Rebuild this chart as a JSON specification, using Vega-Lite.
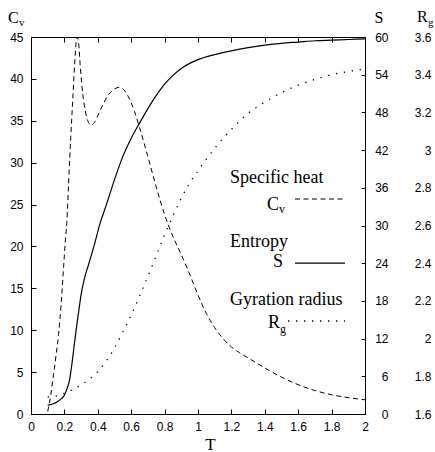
{
  "$schema": "https://vega.github.io/schema/vega-lite/v6.json",
  "width": 334,
  "height": 377,
  "autosize": {"type": "none"},
  "padding": {"left": 31, "top": 37, "right": 70, "bottom": 38},
  "background": "white",
  "config": {
    "view": {"stroke": "black", "strokeWidth": 1},
    "axis": {"labelFont": "Liberation Sans", "labelFontSize": 12, "labelColor": "black", "labelOverlap": false, "domainColor": "black", "tickColor": "black", "grid": false, "titleFont": "Liberation Serif", "titleFontWeight": "normal", "titleColor": "black", "titleFontSize": 17},
    "text": {"font": "Liberation Serif", "color": "black"}
  },
  "datasets": {
    "cv": [
      {"T":0.10,"Cv":0.3},{"T":0.12,"Cv":2.5},{"T":0.135,"Cv":4.7},{"T":0.15,"Cv":7.0},{"T":0.165,"Cv":9.5},{"T":0.18,"Cv":13.0},{"T":0.195,"Cv":17.5},{"T":0.205,"Cv":20.5},{"T":0.215,"Cv":23.0},{"T":0.225,"Cv":27.5},{"T":0.238,"Cv":33.0},{"T":0.25,"Cv":37.5},{"T":0.262,"Cv":42.0},{"T":0.27,"Cv":44.3},{"T":0.277,"Cv":45.0},{"T":0.285,"Cv":44.3},{"T":0.295,"Cv":41.5},{"T":0.31,"Cv":38.2},{"T":0.325,"Cv":36.2},{"T":0.34,"Cv":35.0},{"T":0.36,"Cv":34.5},{"T":0.38,"Cv":34.8},{"T":0.40,"Cv":35.6},{"T":0.43,"Cv":36.9},{"T":0.46,"Cv":38.0},{"T":0.50,"Cv":38.8},{"T":0.53,"Cv":39.0},{"T":0.56,"Cv":38.6},{"T":0.59,"Cv":37.6},{"T":0.62,"Cv":36.1},{"T":0.65,"Cv":34.2},{"T":0.70,"Cv":30.7},{"T":0.75,"Cv":27.1},{"T":0.80,"Cv":23.8},{"T":0.85,"Cv":21.2},{"T":0.90,"Cv":19.0},{"T":0.95,"Cv":16.7},{"T":1.0,"Cv":14.2},{"T":1.05,"Cv":12.0},{"T":1.1,"Cv":10.3},{"T":1.15,"Cv":9.0},{"T":1.2,"Cv":8.0},{"T":1.25,"Cv":7.3},{"T":1.3,"Cv":6.7},{"T":1.4,"Cv":5.5},{"T":1.5,"Cv":4.4},{"T":1.6,"Cv":3.5},{"T":1.7,"Cv":2.8},{"T":1.8,"Cv":2.3},{"T":1.9,"Cv":1.95},{"T":2.0,"Cv":1.7}
    ],
    "s": [
      {"T":0.10,"S":1.4},{"T":0.13,"S":1.6},{"T":0.16,"S":2.0},{"T":0.18,"S":2.4},{"T":0.20,"S":3.0},{"T":0.215,"S":4.0},{"T":0.23,"S":5.3},{"T":0.24,"S":7.0},{"T":0.25,"S":9.0},{"T":0.26,"S":11.2},{"T":0.27,"S":13.3},{"T":0.285,"S":16.2},{"T":0.30,"S":19.0},{"T":0.32,"S":21.6},{"T":0.345,"S":23.8},{"T":0.38,"S":27.0},{"T":0.413,"S":30.3},{"T":0.45,"S":33.2},{"T":0.50,"S":37.3},{"T":0.55,"S":41.0},{"T":0.60,"S":43.9},{"T":0.65,"S":46.3},{"T":0.70,"S":48.6},{"T":0.75,"S":50.7},{"T":0.80,"S":52.5},{"T":0.85,"S":53.9},{"T":0.90,"S":55.0},{"T":0.95,"S":55.8},{"T":1.0,"S":56.4},{"T":1.1,"S":57.2},{"T":1.2,"S":57.8},{"T":1.3,"S":58.3},{"T":1.4,"S":58.7},{"T":1.5,"S":59.0},{"T":1.6,"S":59.2},{"T":1.7,"S":59.4},{"T":1.8,"S":59.5},{"T":1.9,"S":59.6},{"T":2.0,"S":59.7}
    ],
    "rg": [
      {"T":0.10,"Rg":1.69},{"T":0.15,"Rg":1.695},{"T":0.20,"Rg":1.71},{"T":0.25,"Rg":1.73},{"T":0.30,"Rg":1.755},{"T":0.35,"Rg":1.785},{"T":0.40,"Rg":1.825},{"T":0.45,"Rg":1.88},{"T":0.50,"Rg":1.95},{"T":0.55,"Rg":2.035},{"T":0.60,"Rg":2.125},{"T":0.65,"Rg":2.225},{"T":0.70,"Rg":2.33},{"T":0.75,"Rg":2.44},{"T":0.80,"Rg":2.55},{"T":0.85,"Rg":2.65},{"T":0.90,"Rg":2.745},{"T":0.95,"Rg":2.825},{"T":1.0,"Rg":2.89},{"T":1.1,"Rg":3.01},{"T":1.2,"Rg":3.11},{"T":1.3,"Rg":3.195},{"T":1.4,"Rg":3.255},{"T":1.5,"Rg":3.305},{"T":1.6,"Rg":3.345},{"T":1.7,"Rg":3.375},{"T":1.8,"Rg":3.40},{"T":1.9,"Rg":3.417},{"T":2.0,"Rg":3.43}
    ]
  },
  "layer": [
    {
      "layer": [
        {
          "data": {"name": "cv"},
          "mark": {"type": "line", "color": "black", "strokeWidth": 1, "strokeDash": [5, 3.5], "interpolate": "monotone"},
          "encoding": {
            "x": {"field": "T", "type": "quantitative", "scale": {"domain": [0, 2], "nice": false}, "axis": null},
            "y": {"field": "Cv", "type": "quantitative", "scale": {"domain": [0, 45], "nice": false, "zero": false},
              "axis": {"orient": "left", "values": [0,5,10,15,20,25,30,35,40,45], "tickSize": -5, "labelPadding": 13, "title": null}}
          }
        },
        {"data": {"values": [{}]}, "mark": {"type": "text", "text": "C", "fontSize": 16, "align": "left", "baseline": "alphabetic"},
         "encoding": {"x": {"datum": -0.1377, "type": "quantitative", "axis": null}, "y": {"datum": 46.67, "type": "quantitative"}}},
        {"data": {"values": [{}]}, "mark": {"type": "text", "text": "v", "fontSize": 11, "align": "left", "baseline": "alphabetic", "dx": 11, "dy": 3},
         "encoding": {"x": {"datum": -0.1377, "type": "quantitative", "axis": null}, "y": {"datum": 46.67, "type": "quantitative"}}},
        {"data": {"values": [{}]}, "mark": {"type": "text", "text": "R", "fontSize": 16, "align": "left", "baseline": "alphabetic"},
         "encoding": {"x": {"datum": 2.3114, "type": "quantitative", "axis": null}, "y": {"datum": 46.79, "type": "quantitative"}}},
        {"data": {"values": [{}]}, "mark": {"type": "text", "text": "g", "fontSize": 11, "align": "left", "baseline": "alphabetic", "dx": 11, "dy": 4},
         "encoding": {"x": {"datum": 2.3114, "type": "quantitative", "axis": null}, "y": {"datum": 46.79, "type": "quantitative"}}},
        {"data": {"values": [{}]}, "mark": {"type": "text", "text": "Specific heat", "fontSize": 18, "align": "left", "baseline": "alphabetic"},
         "encoding": {"x": {"datum": 1.1916, "type": "quantitative", "axis": null}, "y": {"datum": 27.57, "type": "quantitative"}}},
        {"data": {"values": [{}]}, "mark": {"type": "text", "text": "C", "fontSize": 18, "align": "left", "baseline": "alphabetic"},
         "encoding": {"x": {"datum": 1.4132, "type": "quantitative", "axis": null}, "y": {"datum": 24.35, "type": "quantitative"}}},
        {"data": {"values": [{}]}, "mark": {"type": "text", "text": "v", "fontSize": 12, "align": "left", "baseline": "alphabetic", "dx": 12, "dy": 3},
         "encoding": {"x": {"datum": 1.4132, "type": "quantitative", "axis": null}, "y": {"datum": 24.35, "type": "quantitative"}}},
        {"data": {"values": [{}]}, "mark": {"type": "rule", "color": "black", "strokeWidth": 1, "strokeDash": [5, 3.5]},
         "encoding": {"x": {"datum": 1.5808, "type": "quantitative", "axis": null}, "x2": {"datum": 1.8802}, "y": {"datum": 25.66, "type": "quantitative"}}},
        {"data": {"values": [{}]}, "mark": {"type": "text", "text": "Entropy", "fontSize": 18, "align": "left", "baseline": "alphabetic"},
         "encoding": {"x": {"datum": 1.1916, "type": "quantitative", "axis": null}, "y": {"datum": 19.93, "type": "quantitative"}}},
        {"data": {"values": [{}]}, "mark": {"type": "text", "text": "S", "fontSize": 18, "align": "left", "baseline": "alphabetic"},
         "encoding": {"x": {"datum": 1.4491, "type": "quantitative", "axis": null}, "y": {"datum": 17.55, "type": "quantitative"}}},
        {"data": {"values": [{}]}, "mark": {"type": "rule", "color": "black", "strokeWidth": 1.2},
         "encoding": {"x": {"datum": 1.5808, "type": "quantitative", "axis": null}, "x2": {"datum": 1.8802}, "y": {"datum": 18.02, "type": "quantitative"}}},
        {"data": {"values": [{}]}, "mark": {"type": "text", "text": "Gyration radius", "fontSize": 18, "align": "left", "baseline": "alphabetic"},
         "encoding": {"x": {"datum": 1.1916, "type": "quantitative", "axis": null}, "y": {"datum": 13.01, "type": "quantitative"}}},
        {"data": {"values": [{}]}, "mark": {"type": "text", "text": "R", "fontSize": 18, "align": "left", "baseline": "alphabetic"},
         "encoding": {"x": {"datum": 1.4192, "type": "quantitative", "axis": null}, "y": {"datum": 10.27, "type": "quantitative"}}},
        {"data": {"values": [{}]}, "mark": {"type": "text", "text": "g", "fontSize": 12, "align": "left", "baseline": "alphabetic", "dx": 12, "dy": 5},
         "encoding": {"x": {"datum": 1.4192, "type": "quantitative", "axis": null}, "y": {"datum": 10.27, "type": "quantitative"}}},
        {"data": {"values": [{}]}, "mark": {"type": "rule", "color": "black", "strokeWidth": 1.3, "strokeDash": [1.3, 6.7]},
         "encoding": {"x": {"datum": 1.5389, "type": "quantitative", "axis": null}, "x2": {"datum": 1.8802}, "y": {"datum": 11.10, "type": "quantitative"}}}
      ]
    },
    {
      "data": {"name": "s"},
      "mark": {"type": "line", "color": "black", "strokeWidth": 1.2, "interpolate": "monotone"},
      "encoding": {
        "x": {"field": "T", "type": "quantitative", "scale": {"domain": [0, 2], "nice": false},
          "axis": {"orient": "top", "values": [0,0.2,0.4,0.6,0.8,1,1.2,1.4,1.6,1.8,2], "labels": false, "tickSize": -5, "title": null}},
        "y": {"field": "S", "type": "quantitative", "scale": {"domain": [0, 60], "nice": false, "zero": false},
          "axis": {"orient": "right", "values": [0,6,12,18,24,30,36,42,48,54,60], "tickSize": -4, "labelPadding": 27, "labelAlign": "right", "title": "S", "titleAngle": 0, "titleX": 9, "titleY": -15, "titleAlign": "left", "titleBaseline": "alphabetic", "titleFontSize": 16}}
      }
    },
    {
      "data": {"name": "rg"},
      "mark": {"type": "line", "color": "black", "strokeWidth": 1.3, "strokeDash": [1.3, 6.7], "interpolate": "monotone"},
      "encoding": {
        "x": {"field": "T", "type": "quantitative", "scale": {"domain": [0, 2], "nice": false},
          "axis": {"orient": "bottom", "values": [0,0.2,0.4,0.6,0.8,1,1.2,1.4,1.6,1.8,2], "format": "~g", "labelOverlap": false, "labelFlush": false, "labelBound": false, "tickSize": -5, "labelPadding": 12, "title": "T", "titleX": 179, "titleY": 35, "titleBaseline": "alphabetic", "titleAlign": "center"}},
        "y": {"field": "Rg", "type": "quantitative", "scale": {"domain": [1.6, 3.6], "nice": false, "zero": false},
          "axis": {"orient": "right", "values": [1.6,1.8,2,2.2,2.4,2.6,2.8,3,3.2,3.4,3.6], "format": "~g", "ticks": false, "tickSize": 0, "domain": false, "labelPadding": 66, "labelAlign": "right", "title": null}}
      }
    }
  ],
  "resolve": {"scale": {"x": "independent", "y": "independent"}}
}
